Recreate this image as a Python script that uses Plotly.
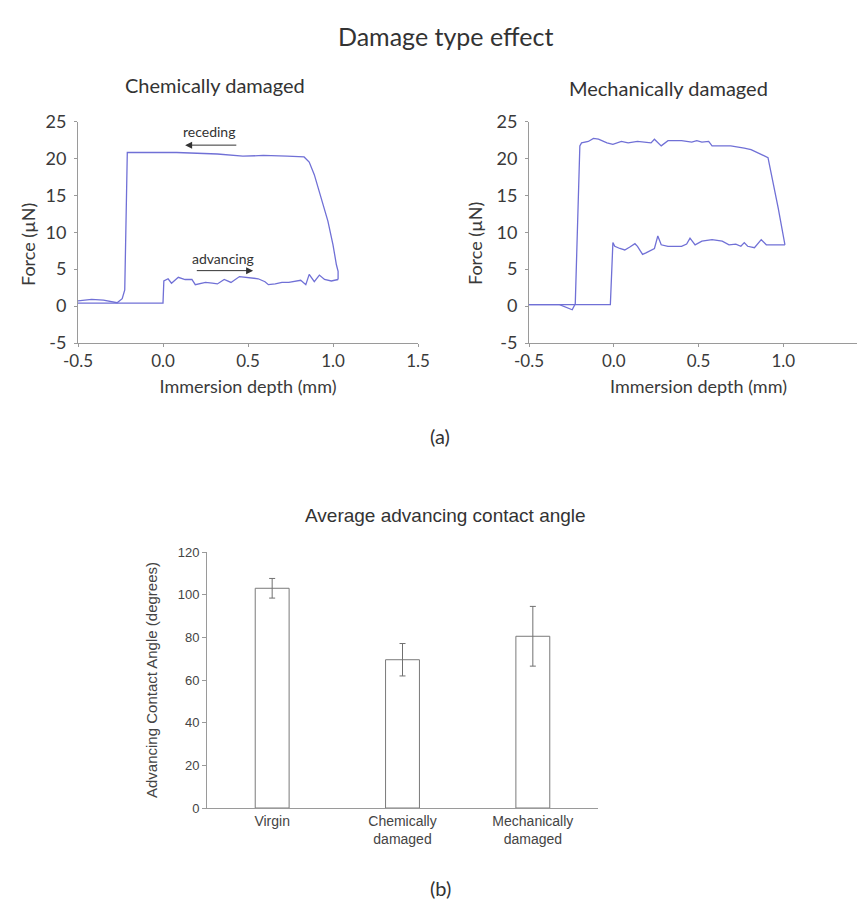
import plotly.graph_objects as go

# ---------------- data ----------------
chem_adv_x = [-0.5, -0.3, 0.0, 0.005, 0.03, 0.05, 0.09, 0.13, 0.17, 0.19, 0.22, 0.25, 0.29, 0.32,
              0.36, 0.40, 0.45, 0.50, 0.56, 0.60, 0.62, 0.66, 0.70, 0.74, 0.78, 0.81, 0.84, 0.86,
              0.89, 0.92, 0.95, 0.99, 1.03]
chem_adv_y = [0.4, 0.4, 0.4, 3.4, 3.7, 3.1, 3.9, 3.6, 3.6, 2.9, 3.1, 3.2, 3.1, 3.0,
              3.6, 3.2, 4.0, 3.9, 3.7, 3.3, 2.9, 3.0, 3.2, 3.2, 3.4, 3.5, 2.9, 4.3,
              3.3, 4.2, 3.6, 3.4, 3.6]
chem_rec_x = [1.03, 1.03, 1.02, 1.00, 0.97, 0.93, 0.89, 0.86, 0.83, 0.73, 0.59, 0.47, 0.32, 0.08,
              -0.21, -0.225, -0.24, -0.27, -0.35, -0.42, -0.5]
chem_rec_y = [3.6, 4.7, 5.6, 8.3, 11.5, 14.7, 17.8, 19.5, 20.2, 20.3, 20.4, 20.3, 20.6, 20.8,
              20.8, 2.2, 1.0, 0.45, 0.8, 0.9, 0.7]

mech_adv_x = [-0.5, -0.02, -0.005, 0.006, 0.036, 0.065, 0.095, 0.125, 0.14, 0.17, 0.19, 0.22, 0.24,
              0.26, 0.28, 0.32, 0.40, 0.43, 0.45, 0.48, 0.52, 0.58, 0.64, 0.68, 0.72, 0.75, 0.77,
              0.79, 0.83, 0.87, 0.90, 0.93, 1.01]
mech_adv_y = [0.2, 0.2, 8.6, 8.1, 7.8, 7.6, 8.0, 8.45, 8.1, 7.0, 7.2, 7.6, 7.8,
              9.5, 8.3, 8.1, 8.1, 8.4, 9.2, 8.3, 8.8, 9.0, 8.8, 8.3, 8.4, 8.1, 8.6,
              8.1, 7.9, 9.0, 8.3, 8.3, 8.3]
mech_rec_x = [1.01, 0.97, 0.91, 0.87, 0.81, 0.77, 0.69, 0.58, 0.56, 0.52, 0.49, 0.46, 0.40, 0.32,
              0.28, 0.24, 0.22, 0.14, 0.085, 0.045, -0.005, -0.04, -0.09, -0.12, -0.15, -0.19,
              -0.20, -0.227, -0.245, -0.32, -0.5]
mech_rec_y = [8.3, 13.3, 20.1, 20.5, 21.2, 21.4, 21.7, 21.7, 22.3, 22.2, 22.4, 22.2, 22.4, 22.4,
              21.7, 22.6, 22.1, 22.3, 22.1, 22.3, 21.9, 22.1, 22.6, 22.7, 22.3, 22.1,
              21.7, 0.3, -0.5, 0.2, 0.2]

bar_categories = ["Virgin", "Chemically<br>damaged", "Mechanically<br>damaged"]
bar_values = [103, 69.5, 80.5]
bar_errors = [4.6, 7.6, 14.0]

force_ticks = [-5, 0, 5, 10, 15, 20, 25]
force_ticktext = ["-5", "0", "5", "10", "15", "20", "25"]
depth_ticks = [-0.5, 0.0, 0.5, 1.0, 1.5]
depth_ticktext = ["-0.5", "0.0", "0.5", "1.0", "1.5"]
angle_ticks = [0, 20, 40, 60, 80, 100, 120]

# ---------------- figure ----------------
W, H = 865, 902
LINE = "#7070d6"
TOPFONT = "Lato"
BOTFONT = "Liberation Sans"
AX = "#9a9a9a"
TXT = "#3a3a3a"

def px(x):
    return x / W

def py(y):
    return 1 - y / H

fig = go.Figure()

for xs, ys, xa, ya in [(chem_adv_x, chem_adv_y, "x", "y"), (chem_rec_x, chem_rec_y, "x", "y"),
                       (mech_adv_x, mech_adv_y, "x2", "y2"), (mech_rec_x, mech_rec_y, "x2", "y2")]:
    fig.add_trace(go.Scatter(x=xs, y=ys, mode="lines", xaxis=xa, yaxis=ya,
                             line=dict(color=LINE, width=1.3), showlegend=False, hoverinfo="skip"))

fig.add_trace(go.Bar(x=bar_categories, y=bar_values, xaxis="x3", yaxis="y3", width=0.26,
                     marker=dict(color="white", line=dict(color="#7a7a7a", width=1)),
                     error_y=dict(type="data", array=bar_errors, color="#707070", thickness=1, width=3),
                     showlegend=False, hoverinfo="skip"))

top_x = dict(range=[-0.5, 1.5], tickvals=depth_ticks, ticktext=depth_ticktext, showline=True,
             linecolor=AX, automargin=False, ticklabeloverflow="allow",
             linewidth=1, ticks="outside", ticklen=3, tickcolor=AX, showgrid=False, zeroline=False,
             tickfont=dict(family=TOPFONT, size=17, color=TXT),
             title=dict(text="Immersion depth (mm)", font=dict(family=TOPFONT, size=18, color=TXT),
                        standoff=9))
top_y = dict(range=[-5, 25], tickvals=force_ticks, ticktext=force_ticktext, showline=True,
             linecolor=AX, linewidth=1, automargin=False, ticklabelstandoff=4,
             ticks="outside", ticklen=3, tickcolor=AX, showgrid=False, zeroline=False,
             tickfont=dict(family=TOPFONT, size=18, color=TXT))

ydom_top = [py(335), py(113.5)]

fig.update_layout(
    width=W, height=H, margin=dict(l=0, r=0, t=0, b=0, autoexpand=False),
    paper_bgcolor="white", plot_bgcolor="white",
    xaxis=dict(domain=[px(70), px(410)], anchor="y", **top_x),
    yaxis=dict(domain=ydom_top, anchor="x", **top_y),
    xaxis2=dict(domain=[px(521), px(860)], anchor="y2", **top_x),
    yaxis2=dict(domain=ydom_top, anchor="x2", **top_y),
    xaxis3=dict(domain=[px(199), px(590)], anchor="y3", range=[-0.5, 2.5], showline=True,
                linecolor=AX, linewidth=1, ticks="", showgrid=False, zeroline=False, automargin=False,
                tickfont=dict(family=BOTFONT, size=14, color="#444")),
    yaxis3=dict(domain=[py(800), py(544)], anchor="x3", range=[0, 120], tickvals=angle_ticks,
                showline=True, linecolor=AX, linewidth=1, ticks="outside", ticklen=4, tickcolor=AX,
                showgrid=False, zeroline=False, automargin=False,
                tickfont=dict(family=BOTFONT, size=13, color="#444"),
                title=dict(text="Advancing Contact Angle (degrees)",
                           font=dict(family=BOTFONT, size=15, color="#444"), standoff=16)),
)

ann = [
    dict(text="Damage type effect", x=px(437), y=py(28), font=dict(family=TOPFONT, size=25, color="#333")),
    dict(text="Chemically damaged", x=px(207), y=py(77), font=dict(family=TOPFONT, size=20, color="#333")),
    dict(text="Mechanically damaged", x=px(660), y=py(80), font=dict(family=TOPFONT, size=20, color="#333")),
    dict(text="(a)", x=px(432), y=py(428), font=dict(family=TOPFONT, size=20, color="#333")),
    dict(text="Average advancing contact angle", x=px(437), y=py(507),
         font=dict(family=BOTFONT, size=19, color="#333")),
    dict(text="(b)", x=px(432), y=py(880), font=dict(family=TOPFONT, size=20, color="#333")),
    dict(text="Force (µN)", x=px(20), y=py(237), textangle=-90, font=dict(family=TOPFONT, size=18, color=TXT)),
    dict(text="Force (µN)", x=px(467), y=py(236), textangle=-90, font=dict(family=TOPFONT, size=18, color=TXT)),
]
for a in ann:
    fig.add_annotation(xref="paper", yref="paper", showarrow=False, xanchor="center", yanchor="middle", **a)

# in-plot labels with arrows
fig.add_annotation(xref="x", yref="y", x=0.27, y=23.7, text="receding", showarrow=False,
                   font=dict(family=TOPFONT, size=14, color="#333"))
fig.add_annotation(xref="x", yref="y", axref="x", ayref="y", x=0.13, y=21.8, ax=0.44, ay=21.8,
                   text="", showarrow=True, arrowhead=2, arrowsize=1.4, arrowwidth=1, arrowcolor="#333")
fig.add_annotation(xref="x", yref="y", x=0.35, y=6.5, text="advancing", showarrow=False,
                   font=dict(family=TOPFONT, size=14, color="#333"))
fig.add_annotation(xref="x", yref="y", axref="x", ayref="y", x=0.53, y=4.8, ax=0.19, ay=4.8,
                   text="", showarrow=True, arrowhead=2, arrowsize=1.4, arrowwidth=1, arrowcolor="#333")

fig.write_html("out.html")
